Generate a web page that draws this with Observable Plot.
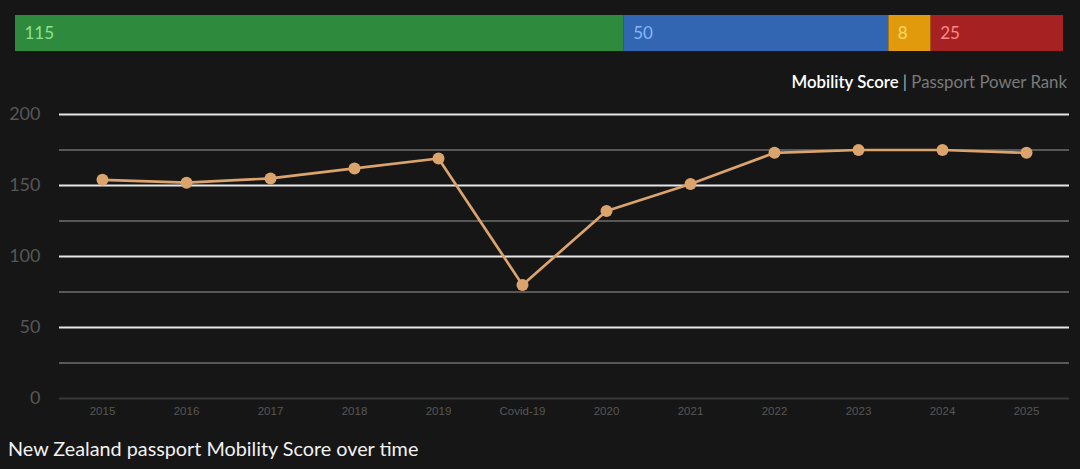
<!DOCTYPE html>
<html>
<head>
<meta charset="utf-8">
<script src="https://cdn.jsdelivr.net/npm/d3@7"></script>
<script src="https://cdn.jsdelivr.net/npm/@observablehq/plot@0.6"></script>
<style>
  html, body { margin: 0; padding: 0; background: #161616; width: 1080px; height: 469px; overflow: hidden; font-family: Lato, "Open Sans", sans-serif; }
  #bar svg, #chart svg { display: block; background: transparent; }
  #legend { height: 34px; box-sizing: border-box; text-align: right; padding-right: 13px; padding-top: 6px; font-size: 16.8px; line-height: 20px; }
  #legend .on { color: #ffffff; font-weight: 600; }
  #legend .sep { color: #aaaaaa; }
  #legend .off { color: #7a7a7a; }
  #caption { height: 39px; box-sizing: border-box; padding-left: 8px; padding-top: 6px; color: #f2f2f2; font-size: 19.8px; line-height: 24px; }
</style>
</head>
<body>
<div id="bar"></div>
<div id="legend"><span class="on">Mobility Score</span> <span class="sep">|</span> <span class="off">Passport Power Rank</span></div>
<div id="chart"></div>
<div id="caption">New Zealand passport Mobility Score over time</div>
<script>
// Top summary bar
const segLabels = ["115", "50", "8", "25"];
const segValues = [115, 50, 8, 25];
const segColors = ["#2e8a3d", "#3366b2", "#e09a0b", "#a62222"];
const segTextColors = ["#8fe38f", "#86b6f2", "#ffd866", "#ff8a8a"];

// Line chart
const categories = ["2015", "2016", "2017", "2018", "2019", "Covid-19", "2020", "2021", "2022", "2023", "2024", "2025"];
const scores = [154, 152, 155, 162, 169, 80, 132, 151, 173, 175, 175, 173];
const yTickLabels = [0, 50, 100, 150, 200];
const majorGrid = [50, 100, 150, 200];
const minorGrid = [25, 75, 125, 175];
const zeroGrid = [0];

const segs = segValues.map((v, i) => ({value: v, label: segLabels[i], color: segColors[i], textColor: segTextColors[i], order: i}));
const total = d3.sum(segValues);

const bar = Plot.plot({
  width: 1080, height: 66,
  marginTop: 15, marginBottom: 15, marginLeft: 15, marginRight: 17,
  x: {axis: null, domain: [0, total]},
  y: {axis: null},
  color: {type: "identity"},
  style: {background: "transparent"},
  marks: [
    Plot.barX(segs, Plot.stackX({x: "value", fill: "color", order: null})),
    Plot.text(segs, Plot.stackX1({x: "value", text: "label", fill: "textColor", textAnchor: "start", dx: 9, fontSize: 17, fontFamily: "Lato, sans-serif", order: null}))
  ]
});
document.getElementById("bar").appendChild(bar);

const data = categories.map((c, i) => ({label: c, value: scores[i]}));
const lineColor = "#dba46d";

const chart = Plot.plot({
  width: 1080, height: 330,
  marginTop: 14, marginBottom: 32, marginLeft: 59, marginRight: 11,
  x: {type: "point", domain: categories, padding: 0.5, axis: null},
  y: {domain: [0, 200], axis: null},
  style: {background: "transparent"},
  marks: [
    Plot.ruleY(zeroGrid, {y: d => d, stroke: "#383838", strokeWidth: 2}),
    Plot.ruleY(minorGrid, {y: d => d, stroke: "#6e6e6e", strokeWidth: 1.5}),
    Plot.ruleY(majorGrid, {y: d => d, stroke: "#e6e6e6", strokeWidth: 1.8}),
    Plot.text(yTickLabels, {y: d => d, text: d => String(d), frameAnchor: "left", textAnchor: "end", dx: -19, fill: "#575757", fontSize: 18, fontFamily: "Lato, sans-serif"}),
    Plot.text(categories, {x: d => d, text: d => d, frameAnchor: "bottom", dy: 16, fill: "#565656", fontSize: 11.5, fontFamily: "Liberation Sans, Arial, sans-serif"}),
    Plot.line(data, {x: "label", y: "value", stroke: lineColor, strokeWidth: 2.7}),
    Plot.dot(data, {x: "label", y: "value", r: 6, fill: lineColor, stroke: "none"})
  ]
});
document.getElementById("chart").appendChild(chart);
</script>
</body>
</html>
